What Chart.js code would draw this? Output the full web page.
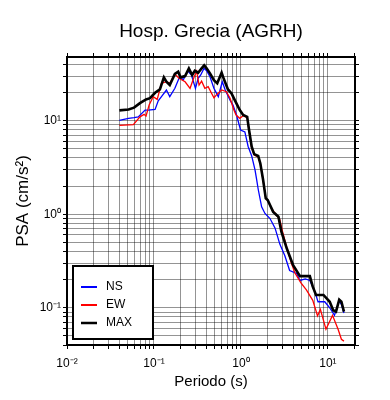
<!DOCTYPE html>
<html><head><meta charset="utf-8">
<script src="https://cdn.jsdelivr.net/npm/chart.js@4.4.0/dist/chart.umd.min.js"></script>
<style>html,body{margin:0;padding:0;background:#fff}</style>
</head><body>
<canvas id="c" width="390" height="400"></canvas>
<script>
const titleText = 'Hosp. Grecia (AGRH)';
const xTitle = 'Periodo (s)';
const yTitle = 'PSA (cm/s²)';
const seriesLabels = ['NS', 'EW', 'MAX'];
const seriesColors = ['#0000ff', '#ff0000', '#000000'];

const nsPeriod = [0.040,0.051,0.059,0.066,0.079,0.086,0.103,0.112,0.122,0.139,0.152,0.174,0.199,0.217,0.244,0.270,0.300,0.322,0.345,0.376,0.403,0.441,0.489,0.549,0.610,0.660,0.750,0.810,0.890,0.990,1.11,1.21,1.33,1.45,1.51,1.58,1.73,1.89,2.16,2.47,2.80,3.20,3.63,4.37,4.78,5.50,6.20,7.10,7.70,9.20,10.5,11.9,13.5,14.3,15.3];
const nsPSA    = [10.1,10.6,10.8,11.0,13.0,13.0,13.2,16.3,18.1,21.3,18.1,22.2,30.0,27.2,34.2,30.8,22.2,28.4,30.8,36.3,34.2,29.5,22.2,18.1,26.1,21.3,16.6,14.7,11.5,7.95,7.6,5.3,4.2,3.0,2.4,1.85,1.2,1.02,0.90,0.71,0.48,0.36,0.25,0.233,0.196,0.204,0.196,0.148,0.116,0.116,0.100,0.083,0.118,0.109,0.088];

const ewPeriod = [0.040,0.058,0.069,0.077,0.081,0.088,0.098,0.109,0.122,0.139,0.152,0.174,0.194,0.228,0.260,0.290,0.310,0.330,0.353,0.385,0.420,0.450,0.490,0.520,0.600,0.680,0.750,0.830,0.880,0.970,1.06,1.18,1.24,1.33,1.42,1.58,1.67,1.80,1.93,2.03,2.25,2.58,2.80,3.00,3.37,3.80,4.18,4.90,5.66,6.70,7.60,8.20,9.50,11.3,13.1,14.3,15.3];
const ewPSA    = [8.9,9.1,11.0,11.7,11.2,14.7,18.1,16.9,25.1,26.1,25.1,31.6,28.4,26.1,22.2,29.5,33.9,24.1,26.5,22.2,23.1,20.4,17.6,18.8,21.3,20.4,17.4,13.0,11.5,10.6,11.3,10.8,7.8,5.1,4.3,4.1,3.5,2.3,1.48,1.40,1.15,0.97,0.88,0.66,0.44,0.30,0.235,0.185,0.155,0.120,0.082,0.096,0.059,0.083,0.059,0.046,0.044];

const maxPeriod = [0.040,0.051,0.059,0.069,0.081,0.090,0.103,0.117,0.130,0.139,0.152,0.174,0.190,0.202,0.228,0.252,0.275,0.295,0.322,0.353,0.378,0.403,0.441,0.489,0.534,0.600,0.638,0.710,0.780,0.850,0.970,1.06,1.18,1.24,1.33,1.42,1.58,1.67,1.80,1.93,2.03,2.35,2.70,2.92,3.37,3.98,4.78,5.90,6.20,6.70,7.30,8.90,10.5,11.5,12.4,13.5,14.3,15.3];
const maxPSA    = [12.9,13.2,13.8,15.4,16.9,17.4,19.9,21.6,29.1,26.1,24.1,31.6,33.4,29.1,30.0,36.3,30.8,34.2,32.6,36.3,39.1,36.3,32.1,27.2,25.1,32.6,27.7,21.6,19.6,16.6,13.0,11.5,11.0,7.95,5.27,4.4,4.2,3.5,2.32,1.48,1.42,1.06,0.94,0.65,0.43,0.285,0.218,0.218,0.218,0.168,0.137,0.137,0.116,0.094,0.091,0.122,0.116,0.091];

const xTickValues = [0.01,0.02,0.03,0.04,0.05,0.06,0.07,0.08,0.09,0.1,0.2,0.3,0.4,0.5,0.6,0.7,0.8,0.9,1,2,3,4,5,6,7,8,9,10,20];
const yTickValues = [0.04,0.05,0.06,0.07,0.08,0.09,0.1,0.2,0.3,0.4,0.5,0.6,0.7,0.8,0.9,1,2,3,4,5,6,7,8,9,10,20,30,40];
const xRange = [0.01, 20.5];
const yRange = [0.04, 48];

function pts(ps, vs) { return ps.map((p, i) => ({x: p, y: vs[i]})); }
const SUP = {'-':'⁻','0':'⁰','1':'¹','2':'²','3':'³','4':'⁴','5':'⁵','6':'⁶','7':'⁷','8':'⁸','9':'⁹'};
function powLabel(v) {
  const e = Math.log10(v), r = Math.round(e);
  if (Math.abs(e - r) < 1e-6) return '10' + String(r).split('').map(c => SUP[c]).join('');
  return '';
}
const FONT = "'Liberation Sans', Arial, Helvetica, sans-serif";
Chart.defaults.font.family = FONT;
Chart.defaults.color = '#000';

const gridColor = 'rgba(0,0,0,0.42)';
function setTicks(vals) { return (scale) => { scale.ticks = vals.map(v => ({value: v})); }; }

const legendBox = {
  id: 'boxLegend',
  afterDatasetsDraw(chart) {
    const {ctx, chartArea} = chart;
    const w = 80, h = 73;
    const left = chartArea.left + 6, top = chartArea.bottom - 6 - h;
    ctx.save();
    ctx.fillStyle = '#fff';
    ctx.fillRect(left, top, w, h);
    ctx.lineWidth = 2;
    ctx.strokeStyle = '#000';
    ctx.strokeRect(left, top, w, h);
    ctx.font = '12px ' + FONT;
    ctx.textBaseline = 'middle';
    seriesLabels.forEach((lab, i) => {
      const y = top + 21 + i * 18;
      ctx.strokeStyle = seriesColors[i];
      ctx.lineWidth = i === 2 ? 2.5 : 2;
      ctx.beginPath(); ctx.moveTo(left + 8, y); ctx.lineTo(left + 24, y); ctx.stroke();
      ctx.fillStyle = '#000';
      ctx.fillText(lab, left + 33, y);
    });
    ctx.restore();
  }
};

new Chart(document.getElementById('c'), {
  type: 'line',
  data: {
    datasets: [
      {label: seriesLabels[0], data: pts(nsPeriod, nsPSA), borderColor: seriesColors[0], borderWidth: 1.3, order: 3},
      {label: seriesLabels[1], data: pts(ewPeriod, ewPSA), borderColor: seriesColors[1], borderWidth: 1.3, order: 2},
      {label: seriesLabels[2], data: pts(maxPeriod, maxPSA), borderColor: seriesColors[2], borderWidth: 2.6, order: 1}
    ]
  },
  options: {
    responsive: false,
    animation: false,
    devicePixelRatio: 1,
    layout: {padding: 0},
    elements: {point: {radius: 0}, line: {tension: 0, fill: false}},
    plugins: {
      legend: {display: false},
      tooltip: {enabled: false},
      title: {display: true, text: titleText, fullSize: false, color: '#000',
              font: {size: 19, weight: 'normal'}, padding: {top: 20.6, bottom: 0}}
    },
    scales: {
      x: {
        type: 'logarithmic', position: 'bottom', min: xRange[0], max: xRange[1],
        afterBuildTicks: setTicks(xTickValues),
        afterFit: (s) => { s.height = 55; },
        grid: {color: gridColor, lineWidth: 1, drawTicks: true, tickLength: 4, tickColor: '#000'},
        border: {display: true, color: '#000', width: 2},
        ticks: {autoSkip: false, maxRotation: 0, padding: 7, font: {size: 12}, callback: (v) => powLabel(v)},
        title: {display: true, text: xTitle, font: {size: 15}, padding: {top: 0, bottom: 9}}
      },
      x2: {
        type: 'logarithmic', position: 'top', min: xRange[0], max: xRange[1],
        afterBuildTicks: setTicks(xTickValues),
        afterFit: (s) => { s.height = 13.6; },
        grid: {drawOnChartArea: false, drawTicks: true, tickLength: 4, tickColor: '#000', color: '#000'},
        border: {display: true, color: '#000', width: 2},
        ticks: {display: false}
      },
      y: {
        type: 'logarithmic', position: 'left', min: yRange[0], max: yRange[1],
        afterBuildTicks: setTicks(yTickValues),
        afterFit: (s) => { s.width = 67; },
        grid: {color: gridColor, lineWidth: 1, drawTicks: true, tickLength: 4, tickColor: '#000'},
        border: {display: true, color: '#000', width: 2},
        ticks: {autoSkip: false, padding: 2, font: {size: 12}, callback: (v) => powLabel(v)},
        title: {display: true, text: yTitle, font: {size: 17}, padding: {top: 13, bottom: 0}}
      },
      y2: {
        type: 'logarithmic', position: 'right', min: yRange[0], max: yRange[1],
        afterBuildTicks: setTicks(yTickValues),
        afterFit: (s) => { s.width = 35; },
        grid: {drawOnChartArea: false, drawTicks: true, tickLength: 4, tickColor: '#000', color: '#000'},
        border: {display: true, color: '#000', width: 2},
        ticks: {display: false}
      }
    }
  },
  plugins: [legendBox]
});
</script>
</body></html>
